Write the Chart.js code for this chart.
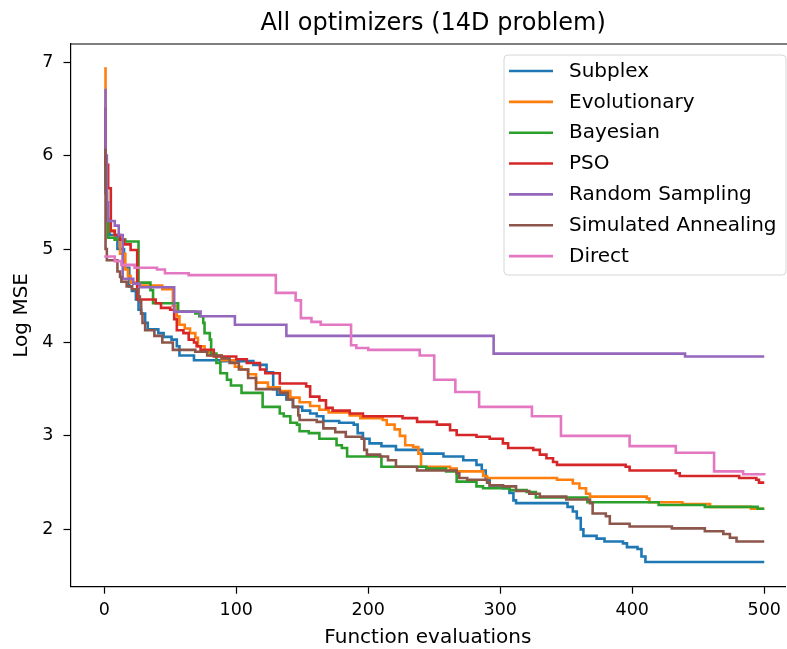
<!DOCTYPE html>
<html>
<head>
<meta charset="utf-8">
<script src="https://cdn.jsdelivr.net/npm/chart.js@4/dist/chart.umd.min.js"></script>
<style>
  html, body { margin: 0; padding: 0; background: #fff; overflow: hidden; }
  canvas { display: block; }
</style>
</head>
<body>
<canvas id="c" width="787" height="649"></canvas>
<script>
// ---- data ----
const seriesNames = ['Subplex', 'Evolutionary', 'Bayesian', 'PSO', 'Random Sampling', 'Simulated Annealing', 'Direct'];
const xTickValues = [0, 100, 200, 300, 400, 500];
const yTickValues = [2, 3, 4, 5, 6, 7];

const subplexX = [0,1,2,4,10,15,19,21,24,26,28,31,33,41,45,51,55,57,68,88,113,123,128,131,138,143,150,156,161,166,178,189,192,196,201,210,221,241,257,272,282,286,289,292,302,307,310,312,351,355,358,361,363,373,379,393,396,404,407,410,500];
const subplexY = [6.5,5.6,5.3,5.15,5.0,4.8,4.6,4.55,4.46,4.35,4.31,4.21,4.14,4.10,4.06,4.03,3.96,3.86,3.81,3.80,3.76,3.68,3.50,3.44,3.39,3.31,3.27,3.24,3.21,3.16,3.14,3.12,3.03,2.97,2.92,2.89,2.85,2.81,2.78,2.74,2.69,2.63,2.53,2.47,2.44,2.39,2.31,2.28,2.24,2.19,2.12,2.00,1.93,1.90,1.87,1.85,1.81,1.79,1.71,1.65,1.65];

const evoX = [0,1,2,4,8,12,16,18,20,25,44,52,55,57,61,65,69,71,76,80,89,99,104,109,115,124,133,141,148,156,163,170,186,194,211,214,220,224,228,234,238,240,262,267,287,290,343,355,360,365,368,411,413,438,459,490,500];
const evoY = [6.93,5.8,5.3,5.2,5.1,4.95,4.78,4.71,4.64,4.61,4.57,4.39,4.28,4.19,4.15,4.10,4.05,3.96,3.90,3.86,3.81,3.74,3.71,3.66,3.57,3.52,3.48,3.41,3.36,3.32,3.28,3.25,3.22,3.19,3.17,3.12,3.07,3.00,2.90,2.88,2.81,2.67,2.65,2.62,2.57,2.55,2.53,2.49,2.44,2.38,2.35,2.33,2.29,2.27,2.24,2.22,2.22];

const bayesX = [0,1,2,3,8,16,26,35,37,56,69,72,75,76,80,81,85,88,93,96,104,120,133,136,141,146,148,155,163,176,180,184,210,244,259,267,282,287,307,320,327,366,420,455,495,500];
const bayesY = [6.4,5.7,5.33,5.12,5.10,5.08,4.64,4.56,4.42,4.33,4.31,4.28,4.21,4.10,4.03,3.88,3.78,3.67,3.60,3.54,3.46,3.31,3.24,3.21,3.14,3.12,3.05,3.03,2.97,2.90,2.87,2.78,2.67,2.65,2.62,2.51,2.46,2.44,2.42,2.40,2.34,2.29,2.26,2.24,2.22,2.22];

const psoX = [0,1,3,5,8,12,15,20,25,39,43,50,53,55,60,64,68,70,73,83,100,108,118,122,133,153,156,163,168,173,186,196,226,237,252,262,267,282,292,302,306,325,330,335,340,343,395,398,433,436,481,494,496,500];
const psoY = [6.5,5.9,5.65,5.19,5.15,5.10,5.05,4.99,4.46,4.42,4.37,4.35,4.25,4.13,4.10,4.03,4.00,3.96,3.92,3.85,3.82,3.78,3.71,3.67,3.56,3.53,3.42,3.38,3.30,3.27,3.24,3.21,3.19,3.15,3.12,3.06,3.01,2.99,2.97,2.92,2.87,2.85,2.80,2.76,2.72,2.69,2.67,2.63,2.60,2.57,2.55,2.53,2.50,2.50];

const randomX = [0,1,2,3,8,11,14,22,27,53,73,99,138,295,440,500];
const randomY = [6.7,6.0,5.5,5.3,5.25,5.15,4.68,4.63,4.59,4.33,4.28,4.19,4.07,3.88,3.85,3.85];

const annealX = [0,1,2,10,12,13,17,21,26,27,28,29,31,38,44,52,69,78,89,95,102,109,115,133,139,143,147,148,161,166,175,183,195,197,199,209,215,221,237,267,269,275,290,292,302,312,322,330,350,368,370,380,383,398,430,455,469,474,479,500];
const annealY = [6.06,5.0,4.88,4.76,4.70,4.65,4.60,4.57,4.49,4.44,4.31,4.21,4.13,4.07,4.00,3.92,3.90,3.86,3.83,3.78,3.71,3.62,3.50,3.46,3.39,3.31,3.22,3.17,3.15,3.08,3.04,2.99,2.97,2.85,2.80,2.78,2.74,2.67,2.63,2.60,2.55,2.53,2.50,2.47,2.46,2.41,2.38,2.35,2.32,2.28,2.17,2.14,2.06,2.03,2.01,1.98,1.95,1.91,1.87,1.87];

const directX = [0,8,13,23,40,46,64,130,145,149,157,164,187,191,200,239,250,266,284,324,346,398,433,462,484,500];
const directY = [4.92,4.87,4.83,4.80,4.78,4.74,4.72,4.53,4.45,4.26,4.22,4.19,3.97,3.94,3.92,3.86,3.60,3.47,3.31,3.21,3.00,2.89,2.82,2.62,2.59,2.58];

// ---- styles ----
const seriesColors = ['#1f77b4', '#ff7f0e', '#2ca02c', '#d62728', '#9467bd', '#8c564b', '#e377c2'];
const FONT = 'DejaVu Sans';
const LINE_W = 2.6;

const xs = [subplexX, evoX, bayesX, psoX, randomX, annealX, directX];
const ys = [subplexY, evoY, bayesY, psoY, randomY, annealY, directY];

const datasets = seriesNames.map((name, i) => ({
  label: name,
  data: xs[i].map((x, j) => ({ x: x, y: ys[i][j] })),
  borderColor: seriesColors[i],
  backgroundColor: seriesColors[i],
  borderWidth: LINE_W,
  pointRadius: 0,
  stepped: true,
  fill: false,
  order: seriesNames.length - i
}));

const framePlugin = {
  id: 'frame',
  afterLayout(chart) {
    // axes extend past the right edge of the picture; centre the title over the full axes
    const tb = chart.titleBlock;
    if (tb) { tb.right = tb.right + 10.5; tb.width = tb.right - tb.left; }
  },
  afterDraw(chart) {
    const ctx = chart.ctx;
    const a = chart.chartArea;
    ctx.save();
    // top spine
    ctx.strokeStyle = '#000';
    ctx.lineWidth = 1.2;
    ctx.beginPath();
    ctx.moveTo(a.left, a.top);
    ctx.lineTo(a.right + 20, a.top);
    ctx.stroke();

    // legend box (upper right, inside axes)
    const bx = 504, by = 55, bw = 282, bh = 220, r = 4;
    ctx.beginPath();
    ctx.moveTo(bx + r, by);
    ctx.lineTo(bx + bw - r, by);
    ctx.arcTo(bx + bw, by, bx + bw, by + r, r);
    ctx.lineTo(bx + bw, by + bh - r);
    ctx.arcTo(bx + bw, by + bh, bx + bw - r, by + bh, r);
    ctx.lineTo(bx + r, by + bh);
    ctx.arcTo(bx, by + bh, bx, by + bh - r, r);
    ctx.lineTo(bx, by + r);
    ctx.arcTo(bx, by, bx + r, by, r);
    ctx.closePath();
    ctx.fillStyle = 'rgba(255,255,255,0.8)';
    ctx.fill();
    ctx.strokeStyle = '#d6d6d6';
    ctx.lineWidth = 1;
    ctx.stroke();

    ctx.font = '20px "' + FONT + '"';
    ctx.textBaseline = 'middle';
    ctx.textAlign = 'left';
    chart.data.datasets.forEach((ds, i) => {
      const y = 71 + i * 30.85;
      ctx.beginPath();
      ctx.moveTo(509, y);
      ctx.lineTo(553, y);
      ctx.strokeStyle = ds.borderColor;
      ctx.lineWidth = LINE_W;
      ctx.stroke();
      ctx.fillStyle = '#000';
      ctx.fillText(ds.label, 569, y + 0.5);
    });
    ctx.restore();
  }
};

new Chart(document.getElementById('c'), {
  type: 'line',
  data: { datasets: datasets },
  plugins: [framePlugin],
  options: {
    responsive: false,
    animation: false,
    devicePixelRatio: 1,
    layout: { padding: 0 },
    plugins: {
      legend: { display: false },
      tooltip: { enabled: false },
      title: {
        display: true,
        text: 'All optimizers (14D problem)',
        fullSize: false,
        color: '#000',
        font: { family: FONT, size: 24, weight: 'normal' },
        padding: { top: 9, bottom: 6.2 }
      }
    },
    scales: {
      x: {
        type: 'linear',
        min: -25.54,
        max: 515.9,
        afterBuildTicks: s => { s.ticks = xTickValues.map(v => ({ value: v })); },
        afterFit: s => { s.height = 62.3; },
        ticks: { color: '#000', font: { family: FONT, size: 17.5 }, padding: 6, maxRotation: 0, autoSkip: false },
        grid: { display: true, drawOnChartArea: false, drawTicks: true, tickLength: 7, tickWidth: 1.2, tickColor: '#000' },
        border: { display: true, color: '#000', width: 1.2 },
        title: { display: true, text: 'Function evaluations', color: '#000', font: { family: FONT, size: 20, lineHeight: 1.1 }, padding: { top: 0, bottom: 0 } }
      },
      y: {
        type: 'linear',
        min: 1.386,
        max: 7.194,
        afterBuildTicks: s => { s.ticks = yTickValues.map(v => ({ value: v })); },
        afterFit: s => { s.width = 70.5; },
        ticks: { color: '#000', font: { family: FONT, size: 17.5 }, padding: 10 },
        grid: { display: true, drawOnChartArea: false, drawTicks: true, tickLength: 7, tickWidth: 1.2, tickColor: '#000' },
        border: { display: true, color: '#000', width: 1.2 },
        title: { display: true, text: 'Log MSE', color: '#000', font: { family: FONT, size: 20 }, padding: { top: 10, bottom: 0 } }
      }
    }
  }
});
</script>
</body>
</html>
